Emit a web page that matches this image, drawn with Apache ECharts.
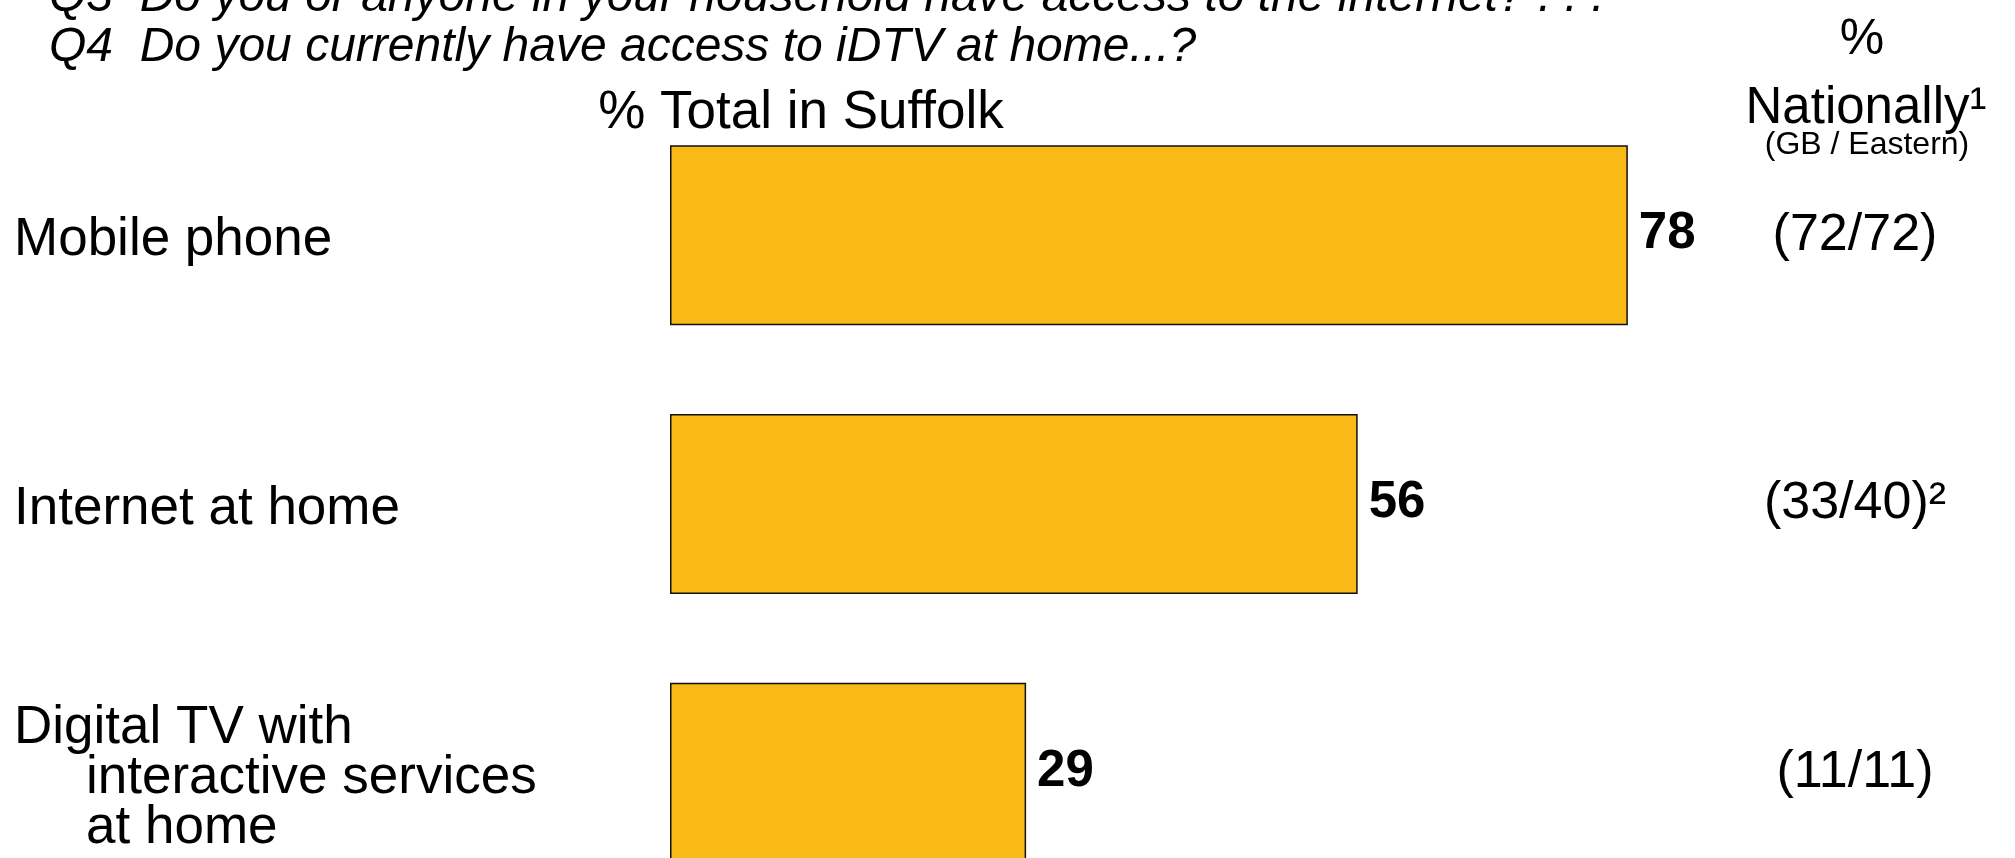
<!DOCTYPE html>
<html>
<head>
<meta charset="utf-8">
<script src="https://cdn.jsdelivr.net/npm/echarts@6/dist/echarts.min.js"></script>
<style>
  html, body { margin: 0; padding: 0; background: #ffffff; }
  #chart { width: 2015px; height: 858px; }
</style>
</head>
<body>
<div id="chart"></div>
<script>
// Survey results: share of Suffolk households with each service
const categories = ['Mobile phone', 'Internet at home', 'Digital TV with\ninteractive services\nat home'];
const suffolkValues = [78, 56, 29];

// National comparison figures (GB / Eastern) with footnote marks
const gbValues = [72, 33, 11];
const easternValues = [72, 40, 11];
const noteMarks = ['', '\u00B2', ''];

const questionLines = [
  'Q3  Do you or anyone in your household have access to the internet? . . .',
  'Q4  Do you currently have access to iDTV at home...?'
];

const FONT = '"Liberation Sans", Arial, Helvetica, sans-serif';
const BAR_COLOR = '#F9B917';

const chart = echarts.init(document.getElementById('chart'), null, { renderer: 'canvas' });

const hiddenAxisParts = {
  axisLine: { show: false },
  axisTick: { show: false },
  splitLine: { show: false }
};

const option = {
  backgroundColor: '#ffffff',
  animation: false,
  grid: {
    left: 670,
    top: 101,
    width: 1228,
    height: 806,
    containLabel: false,
    outerBoundsMode: 'none'
  },
  xAxis: {
    type: 'value',
    min: 0,
    max: 100,
    show: false
  },
  yAxis: [
    {
      type: 'category',
      data: categories,
      inverse: true,
      ...hiddenAxisParts,
      axisLabel: {
        margin: 656,
        align: 'left',
        color: '#000000',
        fontFamily: FONT,
        fontSize: 53,
        lineHeight: 50,
        padding: [11, 0, 0, 0],
        formatter: function (value) {
          const lines = value.split('\n');
          return lines.map(function (line, i) {
            return i === 0 ? line : '{ind| }' + line;
          }).join('\n');
        },
        rich: {
          ind: { width: 72, fontSize: 53, fontFamily: FONT }
        }
      }
    },
    {
      type: 'category',
      data: categories,
      inverse: true,
      position: 'right',
      ...hiddenAxisParts,
      axisLabel: {
        margin: -43,
        align: 'center',
        color: '#000000',
        fontFamily: FONT,
        fontSize: 52,
        formatter: function (value, index) {
          return '(' + gbValues[index] + '/' + easternValues[index] + ')' + noteMarks[index];
        }
      }
    }
  ],
  series: [
    {
      type: 'bar',
      data: suffolkValues,
      barWidth: 180,
      itemStyle: {
        color: BAR_COLOR,
        borderColor: '#111111',
        borderWidth: 1.5
      },
      label: {
        show: true,
        position: 'right',
        distance: 11,
        offset: [0, -1],
        color: '#000000',
        fontFamily: FONT,
        fontWeight: 'bold',
        fontSize: 51
      }
    }
  ],
  graphic: [
    {
      type: 'text',
      left: 49,
      top: -26,
      style: {
        text: questionLines[0],
        font: 'italic 48px ' + FONT,
        fill: '#000000'
      }
    },
    {
      type: 'text',
      x: 49,
      y: 48,
      style: {
        text: questionLines[1],
        font: 'italic 48px ' + FONT,
        fill: '#000000',
        verticalAlign: 'middle'
      }
    },
    {
      type: 'text',
      x: 801,
      y: 113,
      style: {
        text: '% Total in Suffolk',
        font: '53px ' + FONT,
        fill: '#000000',
        align: 'center',
        verticalAlign: 'middle'
      }
    },
    {
      type: 'text',
      x: 1862,
      y: 40,
      style: {
        text: '%',
        font: '50px ' + FONT,
        fill: '#000000',
        align: 'center',
        verticalAlign: 'middle'
      }
    },
    {
      type: 'text',
      x: 1866,
      y: 109,
      style: {
        text: 'Nationally\u00B9',
        font: '51px ' + FONT,
        fill: '#000000',
        align: 'center',
        verticalAlign: 'middle'
      }
    },
    {
      type: 'text',
      x: 1867,
      y: 145,
      style: {
        text: '(GB / Eastern)',
        font: '32px ' + FONT,
        fill: '#000000',
        align: 'center',
        verticalAlign: 'middle'
      }
    }
  ]
};

chart.setOption(option);
</script>
</body>
</html>
